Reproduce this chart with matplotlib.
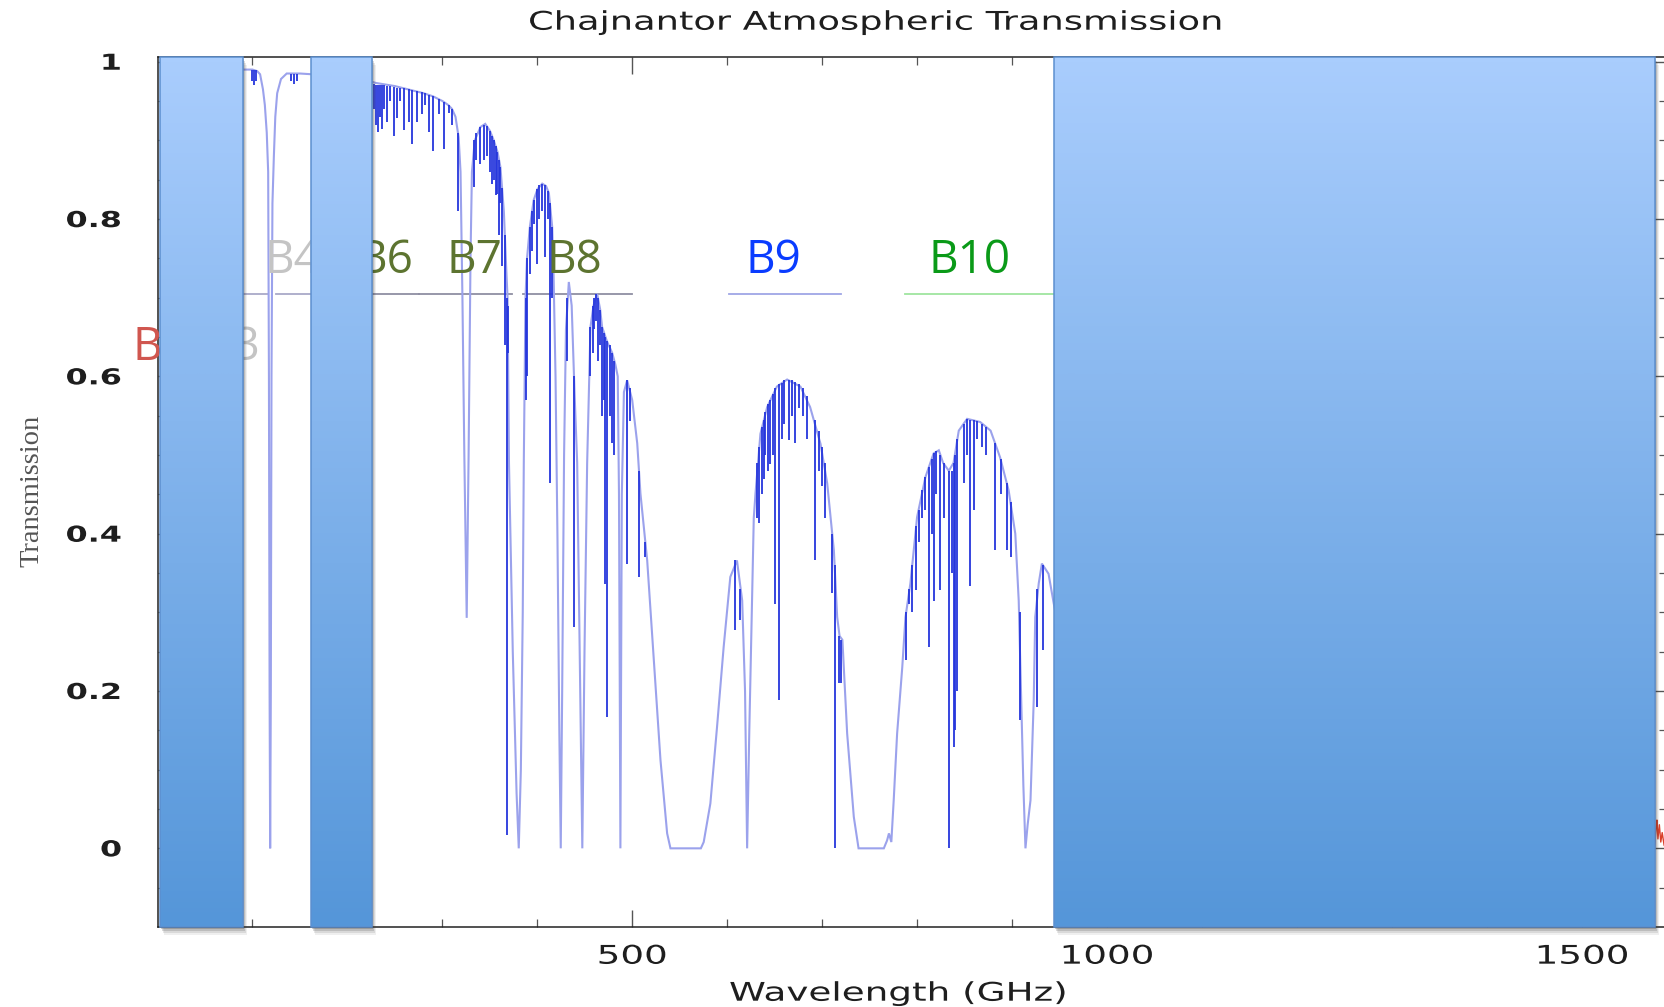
import numpy as np
import matplotlib
matplotlib.use('Agg')
import matplotlib.pyplot as plt
from matplotlib.colors import LinearSegmentedColormap
from matplotlib.patches import Rectangle
from matplotlib.patheffects import AbstractPathEffect
from matplotlib.transforms import Affine2D, ScaledTranslation


# transmission envelope (GHz, transmission)
env_a_points = [
    (88, 0.99), (95, 0.99), (100, 0.99), (105, 0.988), (108, 0.984), (111, 0.965),
    (113, 0.945), (115, 0.91), (116.5, 0.86), (117.3, 0.6), (118, 0.2), (118.6, 0.0),
    (119.3, 0.2), (120, 0.6), (121, 0.82), (122.5, 0.88), (124, 0.93), (126, 0.96),
    (130, 0.978), (136, 0.985), (150, 0.985), (163, 0.984),
]
env_b_points = [
    (224, 0.975), (230, 0.973), (240, 0.971), (250, 0.969), (260, 0.966), (270, 0.963),
    (280, 0.96), (290, 0.956), (300, 0.95), (306, 0.945), (310, 0.94), (313.7, 0.93),
    (317, 0.904), (319, 0.86), (321, 0.7), (323, 0.5), (325.5, 0.293), (327.5, 0.5),
    (329.5, 0.75), (331, 0.86), (334, 0.9), (340, 0.917), (345, 0.921), (350, 0.912),
    (354, 0.9), (358, 0.885), (361, 0.866), (364.6, 0.81), (367, 0.74), (368.5, 0.70),
    (370, 0.49), (374, 0.25), (378, 0.07), (380.3, 0.0), (382.5, 0.1), (384.5, 0.3),
    (385.6, 0.49), (387.4, 0.7), (389, 0.75), (392, 0.79), (396, 0.824), (400, 0.838),
    (405, 0.845), (409, 0.842), (412, 0.833), (415.5, 0.79), (417, 0.726), (419, 0.6),
    (421, 0.4), (423, 0.15), (424.5, 0.0), (426, 0.2), (428, 0.5), (430, 0.66),
    (433, 0.72), (436, 0.69), (439, 0.58), (441.8, 0.49), (445, 0.2), (447.2, 0.0),
    (449.5, 0.25), (452.3, 0.49), (455.8, 0.663), (459, 0.69), (462.8, 0.705), (466, 0.685),
    (468, 0.663), (473, 0.645), (478.6, 0.63), (482, 0.615), (484.5, 0.6), (485.8, 0.45),
    (487.3, 0.0), (488.8, 0.45), (491, 0.58), (494.4, 0.595), (499.7, 0.57), (505, 0.515),
    (508.4, 0.451), (515.5, 0.366), (522.5, 0.239), (529.5, 0.112), (536.5, 0.019), (540, 0.0),
    (572, 0.0), (575, 0.008), (582, 0.057), (589, 0.154), (596, 0.256), (603, 0.345),
    (610, 0.366), (615.5, 0.315), (618.5, 0.2), (620.7, 0.0), (623, 0.15), (626, 0.324),
    (627.7, 0.42), (629.5, 0.451), (634.7, 0.527), (641.8, 0.561), (652, 0.587), (662.8, 0.596),
    (676.8, 0.587), (687, 0.561), (698, 0.514), (705, 0.464), (712, 0.379), (715.5, 0.294),
    (718, 0.27), (721, 0.265), (726, 0.146), (733, 0.04), (738, 0.0), (764.6, 0.0),
    (768, 0.01), (770, 0.019), (772.5, 0.008), (775, 0.061), (778.6, 0.146), (784, 0.23),
    (787.4, 0.294), (792.6, 0.337), (799.6, 0.421), (808.4, 0.472), (817, 0.502), (822.5, 0.506),
    (827, 0.49), (833, 0.48), (838, 0.49), (843.5, 0.531), (852.3, 0.546), (866, 0.542),
    (877, 0.531), (887, 0.497), (896, 0.455), (903, 0.40), (906.6, 0.315), (909, 0.2),
    (911.5, 0.08), (913.7, 0.0), (916, 0.03), (919, 0.061), (922.4, 0.188), (924, 0.294),
    (927.7, 0.337), (931, 0.362), (938, 0.349), (943.5, 0.311), (947, 0.29),
]

# narrow absorption lines: (GHz, top, bottom)
narrow_lines = [
    (100, 0.99, 0.975), (102, 0.99, 0.97), (104, 0.99, 0.975),
    (141, 0.985, 0.975), (144, 0.985, 0.972), (147, 0.985, 0.976),
    (228, 0.972, 0.94), (230, 0.971, 0.92), (232, 0.971, 0.911), (234, 0.97, 0.93),
    (236, 0.97, 0.915), (238, 0.97, 0.94), (241.8, 0.969, 0.923), (245, 0.969, 0.95),
    (248.8, 0.968, 0.906), (252, 0.967, 0.928), (255, 0.967, 0.95), (259, 0.966, 0.913),
    (264.5, 0.965, 0.923), (268, 0.964, 0.896), (273, 0.963, 0.923), (278.6, 0.961, 0.933),
    (282, 0.96, 0.945), (285.6, 0.958, 0.911), (290, 0.956, 0.887), (296, 0.952, 0.933),
    (301.4, 0.949, 0.889), (306.6, 0.945, 0.935), (310, 0.94, 0.92), (316.5, 0.91, 0.81),
    (333, 0.9, 0.841), (335, 0.91, 0.875), (339, 0.917, 0.87), (343.5, 0.92, 0.875),
    (347, 0.918, 0.88), (350, 0.912, 0.86), (352, 0.905, 0.845), (354, 0.9, 0.85),
    (356, 0.893, 0.83), (357.6, 0.885, 0.832), (359.5, 0.875, 0.78), (361, 0.866, 0.82),
    (363, 0.84, 0.74), (365.5, 0.78, 0.64), (368.1, 0.7, 0.017), (369, 0.69, 0.63),
    (387.4, 0.7, 0.57), (389, 0.75, 0.6), (392, 0.79, 0.73), (394, 0.81, 0.76),
    (396, 0.824, 0.794), (399.6, 0.838, 0.743), (402, 0.843, 0.8), (405, 0.845, 0.81),
    (408.4, 0.843, 0.752), (411, 0.836, 0.8), (413.7, 0.82, 0.464), (415.5, 0.79, 0.7),
    (431, 0.7, 0.62), (438, 0.6, 0.281),
    (455.8, 0.663, 0.6), (458, 0.69, 0.63), (460, 0.7, 0.66), (462, 0.705, 0.67),
    (464, 0.7, 0.62), (466, 0.685, 0.64), (468, 0.663, 0.55), (470, 0.655, 0.57),
    (471, 0.65, 0.336), (473.4, 0.645, 0.167), (476, 0.64, 0.55), (478.6, 0.63, 0.515),
    (481, 0.62, 0.5), (494.4, 0.595, 0.362), (497, 0.585, 0.543), (506.6, 0.48, 0.345),
    (513, 0.39, 0.37), (608, 0.366, 0.277), (613, 0.33, 0.29),
    (631, 0.49, 0.42), (633, 0.51, 0.413), (636, 0.535, 0.45), (638, 0.545, 0.47),
    (640, 0.555, 0.5), (643, 0.565, 0.48), (645, 0.57, 0.489), (648, 0.578, 0.5),
    (650.5, 0.585, 0.311), (654, 0.59, 0.188), (657, 0.592, 0.52), (660, 0.595, 0.54),
    (664.5, 0.596, 0.519), (668, 0.595, 0.55), (671.6, 0.593, 0.515), (675, 0.59, 0.56),
    (679, 0.585, 0.55), (684, 0.575, 0.52), (692.6, 0.545, 0.366), (696, 0.53, 0.48),
    (699.7, 0.51, 0.46), (703, 0.49, 0.42), (710, 0.4, 0.324), (713.7, 0.36, 0.0),
    (717, 0.27, 0.21), (720, 0.265, 0.21),
    (788, 0.3, 0.24), (791, 0.33, 0.311), (794, 0.36, 0.3), (798, 0.41, 0.328),
    (801.4, 0.43, 0.39), (805, 0.455, 0.42), (808.4, 0.472, 0.43), (812, 0.485, 0.256),
    (815, 0.495, 0.4), (817, 0.502, 0.315), (820, 0.505, 0.45), (824, 0.5, 0.328),
    (828, 0.49, 0.42), (833, 0.48, 0.0), (836, 0.48, 0.35), (838, 0.49, 0.129),
    (840, 0.5, 0.15), (842, 0.52, 0.2), (848.7, 0.54, 0.464), (852.3, 0.546, 0.5),
    (855.8, 0.545, 0.333), (859.3, 0.544, 0.43), (863, 0.543, 0.52), (868, 0.54, 0.51),
    (872, 0.536, 0.5), (882, 0.515, 0.379), (888, 0.495, 0.45), (894, 0.465, 0.379),
    (898, 0.44, 0.37), (907.7, 0.3, 0.163), (926, 0.33, 0.18), (932, 0.36, 0.252),
]

# small red trace peeking out at the right edge
red_points = [(1576, 0.0), (1577.5, 0.025), (1578.5, 0.036), (1579.5, 0.012), (1581, 0.03),
              (1582.5, 0.008), (1584, 0.02), (1586, 0.004), (1588, 0.0)]

# band lines and labels
band_ranges = [(84, 116), (125, 163), (211, 275), (275, 373), (385, 500), (602, 720), (787, 950)]
band_range_colors = ['#a9a9c8', '#a9a9c8', '#8f8fa3', '#8f8fa3', '#8f8fa3', '#9fa6e6', '#9fe59f']
band_level = 0.705

band_names = ['B1', 'B3', 'B4', 'B6', 'B7', 'B8', 'B9', 'B10']
band_label_x = [-26, 108, 113, 269, 304.5, 410, 619.5, 812]
band_label_y = [0.621, 0.621, 0.731, 0.731, 0.731, 0.731, 0.731, 0.731]
band_label_ha = ['left', 'right', 'left', 'right', 'left', 'left', 'left', 'left']
band_colors = ['#d0564f', '#c4c4c4', '#c4c4c4', '#5d7430', '#5d7430', '#5d7430', '#0a3cff', '#0a9a18']

# blue boxes laid over the plot
cover_spans = [(2.6, 89.7), (161.6, 225.5), (943.7, 1575.9)]

xticks_major = [500, 1000, 1500]
yticks_major = [0, 0.2, 0.4, 0.6, 0.8, 1.0]
ytick_labels = ['0', '0.2', '0.4', '0.6', '0.8', '1']


class HStretch(AbstractPathEffect):
    # widen glyphs horizontally around a fixed pixel x
    def __init__(self, sx, cx):
        super().__init__()
        self.sx = sx
        self.cx = cx

    def draw_path(self, renderer, gc, tpath, affine, rgbFace=None):
        t = affine + Affine2D().translate(-self.cx, 0).scale(self.sx, 1).translate(self.cx, 0)
        renderer.draw_path(gc, tpath, t, rgbFace)


W, H = 1664, 1007
fig = plt.figure(figsize=(W / 100, H / 100), dpi=100)
ax = fig.add_axes([157.5 / W, (H - 927) / H, (1666 - 157.5) / W, 870 / H])

xlo, xhi = 0, 1588
ylo, yhi = -0.1, 1.006

# curve
for pts in (env_a_points, env_b_points):
    f = [p[0] for p in pts]
    t = [p[1] for p in pts]
    ax.plot(f, t, color='#9ba2ec', lw=1.5, zorder=2, solid_joinstyle='miter')
ax.vlines([n[0] for n in narrow_lines], [n[2] for n in narrow_lines], [n[1] for n in narrow_lines],
          color='#2536dc', lw=1.3, zorder=2.2)
ax.plot([p[0] for p in red_points], [p[1] for p in red_points], color='#d9402a', lw=1.0, zorder=2)

# band lines
for (a, b), c in zip(band_ranges, band_range_colors):
    ax.plot([a, b], [band_level, band_level], color=c, lw=1.3, zorder=1.8)

for name, x, y, ha, c in zip(band_names, band_label_x, band_label_y, band_label_ha, band_colors):
    ax.text(x, y, name, color=c, ha=ha, va='baseline', fontsize=33,
            family='Open Sans', zorder=3, clip_on=False)

# gradient boxes with border and shadow
cmap = LinearSegmentedColormap.from_list('box', ['#5596d9', '#a9cdfd'])
grad = np.linspace(1, 0, 256).reshape(-1, 1)
for x0, x1 in cover_spans:
    for (dx, dy, al) in [(4, -8, 0.08), (3, -6, 0.12), (2, -4, 0.18), (1, -2, 0.25)]:
        sh = Rectangle((x0, ylo), x1 - x0, yhi - ylo, facecolor='#3a3a3a', edgecolor='none',
                       alpha=al, zorder=4.8, clip_on=False,
                       transform=ax.transData + ScaledTranslation(dx / 100, dy / 100, fig.dpi_scale_trans))
        ax.add_patch(sh)
    ax.imshow(grad, cmap=cmap, extent=(x0, x1, ylo, yhi), aspect='auto', origin='upper',
              interpolation='bilinear', zorder=5)
    ax.add_patch(Rectangle((x0, ylo), x1 - x0, yhi - ylo, fill=False, edgecolor='#5c8fcf',
                           lw=1.1, zorder=5.1, clip_on=False))

ax.set_xlim(xlo, xhi)
ax.set_ylim(ylo, yhi)

# axes styling
for s in ['left', 'bottom', 'top', 'right']:
    ax.spines[s].set_linewidth(1.1)
    ax.spines[s].set_color('#222222')
ax.set_xticks(xticks_major)
ax.set_xticks(np.arange(100, 1600, 100), minor=True)
ax.set_yticks(yticks_major)
ax.set_yticklabels(ytick_labels)
ax.set_yticks(np.arange(-0.05, 1.0, 0.05), minor=True)
ax.tick_params(axis='x', which='both', direction='in', top=True, bottom=True, colors='#555555',
               labelcolor='#1e1e1e', labelsize=18.5, pad=12)
ax.tick_params(axis='x', which='major', length=12, width=1.0)
ax.tick_params(axis='x', which='minor', length=6, width=0.9)
ax.tick_params(axis='y', which='both', direction='in', left=True, right=True, colors='#555555',
               labelcolor='#1e1e1e', labelsize=15.8, pad=25.5)
ax.tick_params(axis='y', which='major', length=10, width=1.0)
ax.tick_params(axis='y', which='minor', length=5, width=0.9)
for lbl in ax.get_yticklabels():
    lbl.set_fontweight('bold')

title = fig.text(878 / W, 1 - 29.7 / H, 'Chajnantor Atmospheric Transmission', ha='center',
                 va='baseline', fontsize=18.5, color='#1e1e1e')
xlab = fig.text(899 / W, 1 - 1000.7 / H, 'Wavelength (GHz)', ha='center', va='baseline',
                fontsize=18.5, color='#1e1e1e')
fig.text(32 / W, 1 - 491 / H, 'Transmission', rotation=90, ha='center', va='center',
         fontsize=20.5, family='Liberation Serif', color='#555555')

# stretch the text horizontally like the source
fig.canvas.draw()
r = fig.canvas.get_renderer()
bb = title.get_window_extent(r)
title.set_path_effects([HStretch(700 / bb.width, 878)])
bb = xlab.get_window_extent(r)
xlab.set_path_effects([HStretch(340 / bb.width, 899)])
for lbl in ax.get_xticklabels():
    if lbl.get_text():
        bb = lbl.get_window_extent(r)
        lbl.set_path_effects([HStretch(1.45, (bb.x0 + bb.x1) / 2)])
for lbl in ax.get_yticklabels():
    if lbl.get_text():
        bb = lbl.get_window_extent(r)
        lbl.set_path_effects([HStretch(1.45, bb.x1)])

fig.savefig('out.png', dpi=100)
